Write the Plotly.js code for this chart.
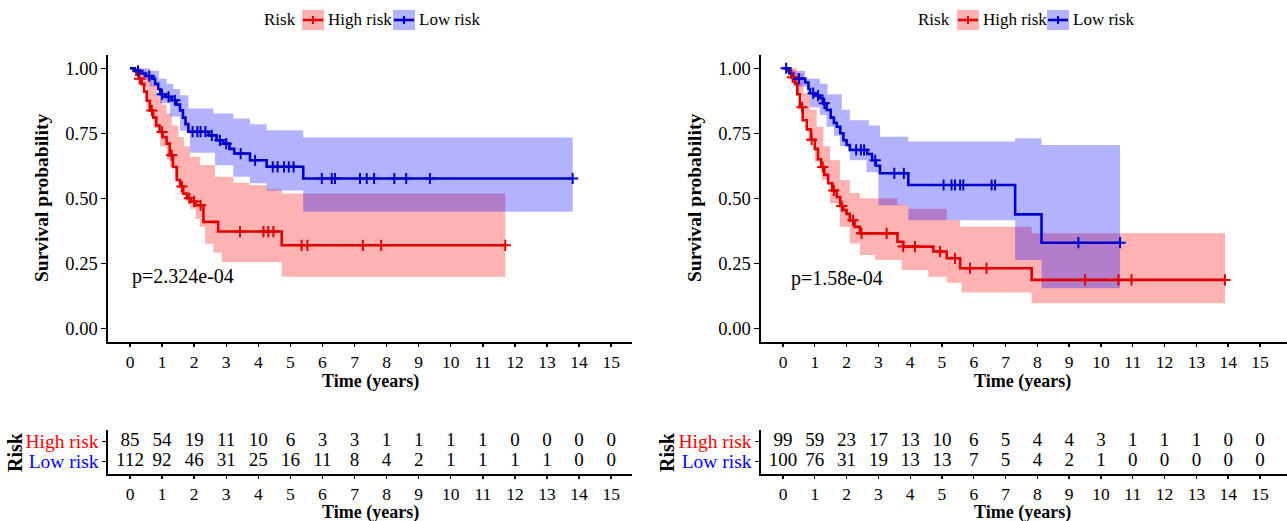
<!DOCTYPE html>
<html><head><meta charset="utf-8">
<script src="https://cdn.plot.ly/plotly-3.0.1.min.js"></script>
<style>html,body{margin:0;padding:0;background:#fff}#chart{width:1287px;height:521px}</style>
</head><body><div id="chart"></div>
<script>
// ---------- DATA ----------
const yearTicks = [0,1,2,3,4,5,6,7,8,9,10,11,12,13,14,15];
const groupNames = ["High risk","Low risk"];

// Left panel
const leftHighTime = [0,0.12,0.2,0.28,0.36,0.44,0.52,0.62,0.72,0.82,0.92,1.02,1.14,1.24,1.34,1.46,1.56,1.66,1.78,1.9,2.05,2.29,2.75,4.73,11.7];
const leftHighSurv = [1,0.99,0.975,0.96,0.94,0.91,0.875,0.838,0.81,0.78,0.755,0.735,0.71,0.665,0.62,0.57,0.545,0.518,0.5,0.488,0.473,0.409,0.372,0.319,0.319];
const leftHighCensor = [0.3,0.68,1.0,1.3,1.62,1.85,2.0,2.2,3.43,4.16,4.31,4.47,5.35,5.53,7.26,7.83,11.7];
const leftHighUpperTime = [0,0.35,0.52,0.68,0.83,1.0,1.14,1.3,1.51,1.68,1.87,2.18,2.65,3.22,3.72,4.27,4.73,11.7];
const leftHighUpper =     [1,0.99,0.968,0.935,0.9,0.86,0.826,0.78,0.736,0.7,0.66,0.628,0.583,0.56,0.55,0.535,0.518,0.518];
const leftHighLowerTime = [0,0.15,0.31,0.52,0.73,0.94,1.14,1.25,1.4,1.56,1.72,1.87,2.05,2.18,2.34,2.6,2.86,4.73,11.7];
const leftHighLower =     [1,0.975,0.93,0.85,0.77,0.7,0.65,0.62,0.57,0.518,0.49,0.46,0.42,0.39,0.325,0.29,0.255,0.198,0.198];

const leftLowTime = [0,0.15,0.3,0.5,0.68,0.78,0.88,0.94,1.1,1.3,1.45,1.56,1.65,1.73,1.82,2.45,2.7,2.9,3.1,3.25,3.74,4.26,5.4,13.8];
const leftLowSurv = [1,0.99,0.98,0.97,0.96,0.94,0.92,0.9,0.89,0.877,0.86,0.838,0.81,0.785,0.756,0.742,0.723,0.71,0.69,0.672,0.646,0.621,0.576,0.576];
const leftLowCensor = [0.25,0.6,1.0,1.2,1.4,1.95,2.1,2.2,2.35,2.55,2.8,3.0,3.45,3.9,4.45,4.6,4.8,4.95,5.1,5.98,6.29,6.39,7.17,7.38,7.61,8.24,8.61,9.35,13.8];
const leftLowUpperTime = [0,0.62,0.9,1.14,1.35,1.56,1.82,2.6,3.22,3.74,4.26,5.4,13.8];
const leftLowUpper =     [1,0.99,0.96,0.94,0.92,0.896,0.845,0.826,0.807,0.785,0.762,0.734,0.734];
const leftLowLowerTime = [0,0.2,0.4,0.62,0.94,1.25,1.56,1.87,2.65,3.22,3.74,4.26,5.4,13.8];
const leftLowLower =     [1,0.98,0.955,0.93,0.865,0.814,0.76,0.675,0.627,0.583,0.558,0.53,0.448,0.448];

const leftPValue = "p=2.324e-04";
const leftHighAtRisk = [85,54,19,11,10,6,3,3,1,1,1,1,0,0,0,0];
const leftLowAtRisk  = [112,92,46,31,25,16,11,8,4,2,1,1,1,1,0,0];

// Right panel
const rightHighTime = [0,0.16,0.26,0.38,0.45,0.53,0.62,0.75,0.88,1.0,1.1,1.2,1.3,1.42,1.55,1.69,1.8,1.9,2.0,2.1,2.25,2.42,3.6,3.78,4.73,5.15,5.57,7.82,13.9];
const rightHighSurv = [1,0.99,0.965,0.942,0.9,0.85,0.8,0.765,0.725,0.69,0.65,0.62,0.59,0.558,0.53,0.505,0.47,0.455,0.44,0.415,0.39,0.365,0.333,0.314,0.295,0.269,0.231,0.186,0.186];
const rightHighCensor = [0.3,0.6,0.9,1.25,1.6,1.85,2.2,2.47,3.26,3.78,4.15,4.94,5.41,5.88,6.4,9.5,10.55,10.96,13.9];
const rightHighUpperTime = [0,0.16,0.43,0.64,0.85,1.06,1.27,1.48,1.79,2.1,2.42,3.6,3.94,5.15,5.57,7.82,13.9];
const rightHighUpper =     [1,1,0.98,0.904,0.84,0.775,0.7,0.646,0.57,0.52,0.5,0.475,0.46,0.415,0.39,0.365,0.365];
const rightHighLowerTime = [0,0.2,0.4,0.6,0.8,1.0,1.22,1.48,1.79,2.1,2.42,2.9,3.73,4.57,5.15,5.62,7.82,13.9];
const rightHighLower =     [1,0.97,0.9,0.8,0.72,0.64,0.57,0.48,0.39,0.326,0.282,0.263,0.224,0.198,0.175,0.138,0.096,0.096];

const rightLowTime = [0,0.2,0.32,0.7,0.8,0.85,1.0,1.16,1.25,1.37,1.5,1.6,1.69,1.8,1.9,2.0,2.1,2.65,2.8,2.92,3.05,3.94,7.3,8.13,10.6];
const rightLowSurv = [1,0.98,0.96,0.945,0.92,0.904,0.895,0.885,0.865,0.84,0.81,0.79,0.775,0.75,0.723,0.705,0.686,0.67,0.646,0.625,0.596,0.551,0.438,0.329,0.329];
const rightLowCensor = [0.1,0.5,0.95,1.1,1.3,2.3,2.45,2.55,2.9,3.5,3.8,5.05,5.3,5.41,5.57,5.67,6.56,6.67,9.29,10.6];
const rightLowUpperTime = [0,0.32,0.69,1.16,1.4,1.85,2.1,2.7,3.05,3.94,7.3,8.13,10.6];
const rightLowUpper =     [1,0.99,0.96,0.94,0.9,0.84,0.8,0.78,0.737,0.718,0.731,0.705,0.705];
const rightLowLowerTime = [0,0.32,0.85,1.16,1.37,1.6,1.79,2.1,2.63,3.0,3.94,7.3,8.13,10.6];
const rightLowLower =     [1,0.93,0.85,0.82,0.775,0.74,0.7,0.646,0.6,0.473,0.415,0.263,0.154,0.154];

const rightPValue = "p=1.58e-04";
const rightHighAtRisk = [99,59,23,17,13,10,6,5,4,4,3,1,1,1,0,0];
const rightLowAtRisk  = [100,76,31,19,13,13,7,5,4,2,1,0,0,0,0,0];

// ---------- STYLE ----------
const W = 1287, H = 521;
const FONT = "Liberation Serif, Times New Roman, serif";
const RED = "#E00000", BLUE = "#0000CC";
const PINK_FILL = "rgba(255,0,0,0.3)", BLUE_FILL = "rgba(0,0,255,0.3)";
const fx = p => p / W, fy = p => 1 - p / H;

function stepPath(t, s) {
  const xs = [], ys = [];
  for (let i = 0; i < t.length; i++) {
    if (i > 0) { xs.push(t[i]); ys.push(s[i-1]); }
    xs.push(t[i]); ys.push(s[i]);
  }
  return [xs, ys];
}
function band(ut, u, lt, l, color, xa, ya) {
  const [ux, uy] = stepPath(ut, u);
  const [lx, ly] = stepPath(lt, l);
  return {x: ux.concat(lx.slice().reverse()), y: uy.concat(ly.slice().reverse()),
    xaxis: xa, yaxis: ya, type: "scatter", mode: "lines", fill: "toself",
    fillcolor: color, line: {width: 0}, hoverinfo: "skip", showlegend: false};
}
function survAt(t, s, c) { let v = s[0]; for (let i = 0; i < t.length; i++) if (t[i] <= c) v = s[i]; return v; }
function kmLine(t, s, color, xa, ya, name) {
  return {x: t, y: s, xaxis: xa, yaxis: ya, type: "scatter", mode: "lines", name: name,
    line: {color: color, width: 2.6, shape: "hv"}, showlegend: false};
}
function censor(t, s, c, color, xa, ya) {
  return {x: c, y: c.map(v => survAt(t, s, v)), xaxis: xa, yaxis: ya, type: "scatter", mode: "markers",
    marker: {symbol: "cross-thin", size: 8, line: {color: color, width: 2}}, showlegend: false, hoverinfo: "skip"};
}
function tableText(counts, row, xa, ya) {
  return {x: yearTicks, y: yearTicks.map(() => row), text: counts.map(String), mode: "text", type: "scatter",
    xaxis: xa, yaxis: ya, textfont: {family: FONT, size: 19, color: "#000"}, showlegend: false, hoverinfo: "skip"};
}

const traces = [
  band(leftHighUpperTime, leftHighUpper, leftHighLowerTime, leftHighLower, PINK_FILL, "x", "y"),
  band(leftLowUpperTime, leftLowUpper, leftLowLowerTime, leftLowLower, BLUE_FILL, "x", "y"),
  kmLine(leftHighTime, leftHighSurv, RED, "x", "y", groupNames[0]),
  kmLine(leftLowTime, leftLowSurv, BLUE, "x", "y", groupNames[1]),
  censor(leftHighTime, leftHighSurv, leftHighCensor, RED, "x", "y"),
  censor(leftLowTime, leftLowSurv, leftLowCensor, BLUE, "x", "y"),
  band(rightHighUpperTime, rightHighUpper, rightHighLowerTime, rightHighLower, PINK_FILL, "x2", "y2"),
  band(rightLowUpperTime, rightLowUpper, rightLowLowerTime, rightLowLower, BLUE_FILL, "x2", "y2"),
  kmLine(rightHighTime, rightHighSurv, RED, "x2", "y2", groupNames[0]),
  kmLine(rightLowTime, rightLowSurv, BLUE, "x2", "y2", groupNames[1]),
  censor(rightHighTime, rightHighSurv, rightHighCensor, RED, "x2", "y2"),
  censor(rightLowTime, rightLowSurv, rightLowCensor, BLUE, "x2", "y2"),
  tableText(leftHighAtRisk, 2, "x3", "y3"),
  tableText(leftLowAtRisk, 1, "x3", "y3"),
  tableText(rightHighAtRisk, 2, "x4", "y4"),
  tableText(rightLowAtRisk, 1, "x4", "y4")
];

const axCommon = {showgrid: false, zeroline: false, showline: true, linecolor: "#000", linewidth: 1.6,
  ticks: "outside", ticklen: 5, tickwidth: 1.4, tickcolor: "#000",
  tickfont: {family: FONT, size: 18.5, color: "#000"}, fixedrange: true};
const xMain = r => Object.assign({}, axCommon, {range: r, tickmode: "array", tickvals: yearTicks,
  ticktext: yearTicks.map(String), ticklen: 3, tickfont: {family: FONT, size: 17.5, color: "#000"}});
const yMain = Object.assign({}, axCommon, {range: [-0.054, 1.051], tickmode: "array",
  tickvals: [0, 0.25, 0.5, 0.75, 1], ticktext: ["0.00","0.25","0.50","0.75","1.00"]});
const yTab = Object.assign({}, axCommon, {range: [0.375, 2.575], tickmode: "array", tickvals: [2, 1],
  tickfont: {family: FONT, size: 19.5, color: "#000"},
  ticktext: ['<span style="color:#FF0000">' + groupNames[0] + '</span>', '<span style="color:#0000FF">' + groupNames[1] + '</span>'], ticklen: 4});

const LX = [fx(108), fx(632)], RX = [fx(761), fx(1287)];
const leftRange = [-0.686, 15.65], rightRange = [-0.692, 15.85];

const layout = {
  width: W, height: H, margin: {l: 0, r: 0, t: 0, b: 0}, paper_bgcolor: "#fff", plot_bgcolor: "rgba(0,0,0,0)",
  showlegend: false, font: {family: FONT, size: 17, color: "#000"},
  xaxis:  Object.assign(xMain(leftRange),  {domain: LX, anchor: "y"}),
  yaxis:  Object.assign({}, yMain, {domain: [fy(342.3), fy(55)], anchor: "x"}),
  xaxis2: Object.assign(xMain(rightRange), {domain: RX, anchor: "y2"}),
  yaxis2: Object.assign({}, yMain, {domain: [fy(342.3), fy(55)], anchor: "x2"}),
  xaxis3: Object.assign(xMain(leftRange),  {domain: LX, anchor: "y3"}),
  yaxis3: Object.assign({}, yTab, {domain: [fy(474), fy(430)], anchor: "x3"}),
  xaxis4: Object.assign(xMain(rightRange), {domain: RX, anchor: "y4"}),
  yaxis4: Object.assign({}, yTab, {domain: [fy(474), fy(430)], anchor: "x4"}),
  shapes: [], annotations: []
};

function txt(x, y, text, opts) {
  return Object.assign({x: x, y: y, xref: "paper", yref: "paper", text: text, showarrow: false,
    font: {family: FONT, size: 18, color: "#000"}, xanchor: "center", yanchor: "middle"}, opts || {});
}
const A = layout.annotations, S = layout.shapes;
// axis titles
A.push(txt(fx(370), fy(381), "<b>Time (years)</b>"));
A.push(txt(fx(1022), fy(381), "<b>Time (years)</b>"));
A.push(txt(fx(370), fy(512), "<b>Time (years)</b>"));
A.push(txt(fx(1022), fy(512), "<b>Time (years)</b>"));
A.push(txt(fx(41), fy(198), "<b>Survival probability</b>", {textangle: -90, font: {family: FONT, size: 19.5, color: "#000"}}));
A.push(txt(fx(694), fy(198), "<b>Survival probability</b>", {textangle: -90, font: {family: FONT, size: 19.5, color: "#000"}}));
A.push(txt(fx(15), fy(452), "<b>Risk</b>", {textangle: -90, font: {family: FONT, size: 20, color: "#000"}}));
A.push(txt(fx(667), fy(452), "<b>Risk</b>", {textangle: -90, font: {family: FONT, size: 20, color: "#000"}}));
// p values
A.push({x: 0, y: 0.2, xref: "x", yref: "y", text: leftPValue, showarrow: false, xanchor: "left", yanchor: "middle",
  font: {family: FONT, size: 20, color: "#000"}});
A.push({x: 0.18, y: 0.19, xref: "x2", yref: "y2", text: rightPValue, showarrow: false, xanchor: "left", yanchor: "middle",
  font: {family: FONT, size: 20, color: "#000"}});

// legends
function legend(riskX, boxes) {
  A.push(txt(fx(riskX), fy(20), "Risk", {font: {family: FONT, size: 17, color: "#000"}}));
  boxes.forEach(b => {
    S.push({type: "rect", xref: "paper", yref: "paper", x0: fx(b.x0), x1: fx(b.x0 + 22), y0: fy(30), y1: fy(10),
      fillcolor: b.fill, line: {width: 0}});
    S.push({type: "line", xref: "paper", yref: "paper", x0: fx(b.x0 + 1), x1: fx(b.x0 + 21), y0: fy(20), y1: fy(20),
      line: {color: b.color, width: 2.6}});
    S.push({type: "line", xref: "paper", yref: "paper", x0: fx(b.x0 + 11), x1: fx(b.x0 + 11), y0: fy(16), y1: fy(24),
      line: {color: b.color, width: 2}});
    A.push(txt(fx(b.x0 + 24), fy(20), b.label, {xanchor: "left", font: {family: FONT, size: 17, color: "#000"}}));
  });
}
legend(280, [{x0: 302, fill: PINK_FILL, color: RED, label: groupNames[0]}, {x0: 393, fill: BLUE_FILL, color: BLUE, label: groupNames[1]}]);
legend(934, [{x0: 957, fill: PINK_FILL, color: RED, label: groupNames[0]}, {x0: 1047, fill: BLUE_FILL, color: BLUE, label: groupNames[1]}]);

Plotly.newPlot("chart", traces, layout, {displayModeBar: false, staticPlot: true});
</script></body></html>
